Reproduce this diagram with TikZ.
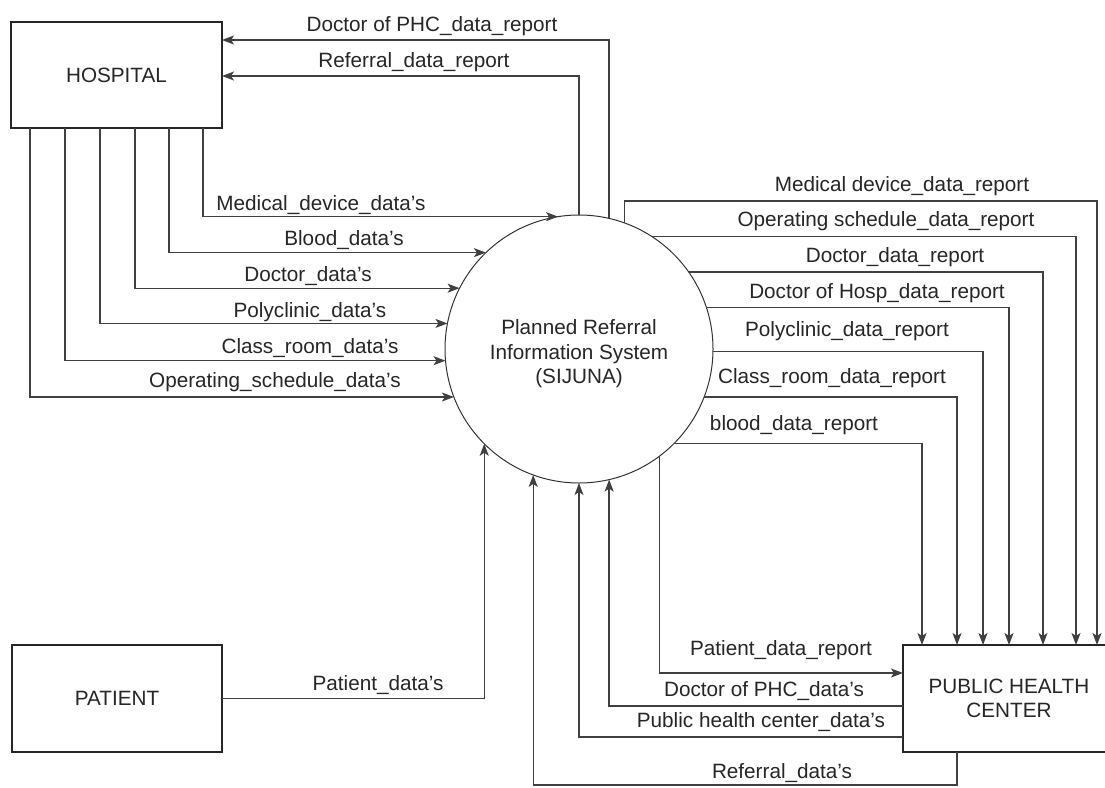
\documentclass[tikz,border=0pt]{standalone}
\usepackage{fontspec}
\setmainfont{Liberation Sans}
\usetikzlibrary{arrows.meta}
\begin{document}
\begin{tikzpicture}[x=1pt,y=-1pt,
  font=\fontsize{20.7}{24.5}\selectfont,
  box/.style={draw=black!85, line width=1.4pt, minimum width=211pt, minimum height=106pt, inner sep=0pt, outer sep=0pt, text=black!85},
  proc/.style={circle, draw=black!80, line width=1pt, minimum size=268pt, inner sep=0pt, outer sep=0pt, align=center, text=black!85},
  flow/.style={draw=black!75, line width=1.3pt, -{Stealth[length=12pt,width=9pt,inset=3pt]}},
  lbl/.style={anchor=base, inner sep=0pt, text=black!85}]
\useasboundingbox (0,0) rectangle (1105,787);
\clip (0,0) rectangle (1105,787);
\fill[white] (0,0) rectangle (1105,787);

% entities
\node[box] (hosp) at (116.5,75) {HOSPITAL};
\node[box, minimum width=210pt, minimum height=107pt] (pat) at (117,698.5) {PATIENT};
\node[box, minimum width=212pt, minimum height=107pt, align=center] (phc) at (1009,698.5) {PUBLIC HEALTH\\CENTER};
\node[proc] (sys) at (579,349) {\rule{0pt}{25pt}Planned Referral\\Information System\\(SIJUNA)};

% hospital -> system
\draw[flow] ([xshift=192pt]hosp.south west) |- (sys.99.9);
\draw[flow] ([xshift=158pt]hosp.south west) |- (sys.134.2);
\draw[flow] ([xshift=124pt]hosp.south west) |- (sys.153.4);
\draw[flow] ([xshift=89pt]hosp.south west) |- (sys.169.7);
\draw[flow] ([xshift=54pt]hosp.south west) |- (sys.185.1);
\draw[flow] ([xshift=19pt]hosp.south west) |- (sys.201.0);
\node[lbl] (l1) at (321,210) {Medical\_device\_data's};
\node[lbl] (l2) at (344,245) {Blood\_data's};
\node[lbl] (l3) at (308,281) {Doctor\_data's};
\node[lbl] (l4) at (310,317) {Polyclinic\_data's};
\node[lbl] (l5) at (310,353) {Class\_room\_data's};
\node[lbl] (l6) at (275,387) {Operating\_schedule\_data's};

% system -> hospital
\draw[flow] (sys.77.5) |- ([yshift=-18pt]hosp.north east);
\draw[flow] (sys.90.9) |- ([yshift=-54pt]hosp.north east);
\node[lbl] (t1) at (432,31) {Doctor of PHC\_data\_report};
\node[lbl] (t2) at (414,67) {Referral\_data\_report};

% system -> public health center (top)
\draw[flow] (sys.70.8) -- ++(0,-22) -| ([xshift=194pt]phc.north west);
\draw[flow] (sys.57.5) -| ([xshift=173pt]phc.north west);
\draw[flow] (sys.35.1) -| ([xshift=140pt]phc.north west);
\draw[flow] (sys.18.3) -| ([xshift=106pt]phc.north west);
\draw[flow] (sys.-1.3) -| ([xshift=80pt]phc.north west);
\draw[flow] (sys.-21.0) -| ([xshift=54pt]phc.north west);
\draw[flow] (sys.-45.8) -| ([xshift=19pt]phc.north west);
\node[lbl] (r1) at (902,191) {Medical device\_data\_report};
\node[lbl] (r2) at (886,226) {Operating schedule\_data\_report};
\node[lbl] (r3) at (895,262) {Doctor\_data\_report};
\node[lbl] (r4) at (877,298) {Doctor of Hosp\_data\_report};
\node[lbl] (r5) at (847,336) {Polyclinic\_data\_report};
\node[lbl] (r6) at (832,383) {Class\_room\_data\_report};
\node[lbl] (r7) at (794,430) {blood\_data\_report};

% bottom flows
\draw[flow] (sys.-53.3) |- ([yshift=-28pt]phc.north west);
\draw[flow] ([yshift=-61pt]phc.north west) -| (sys.-77.9);
\draw[flow] ([yshift=-92pt]phc.north west) -| (sys.-90.9);
\draw[flow] ([xshift=54pt]phc.south west) -- ++(0,33) -| (sys.-110.1);
\draw[flow] (pat.east) -| (sys.-135.8);
\node[lbl] (b1) at (781,655) {Patient\_data\_report};
\node[lbl] (b2) at (764,696) {Doctor of PHC\_data's};
\node[lbl] (b3) at (761,727) {Public health center\_data's};
\node[lbl] (b4) at (782,778) {Referral\_data's};
\node[lbl] (b5) at (378,690) {Patient\_data's};
\end{tikzpicture}
\end{document}
